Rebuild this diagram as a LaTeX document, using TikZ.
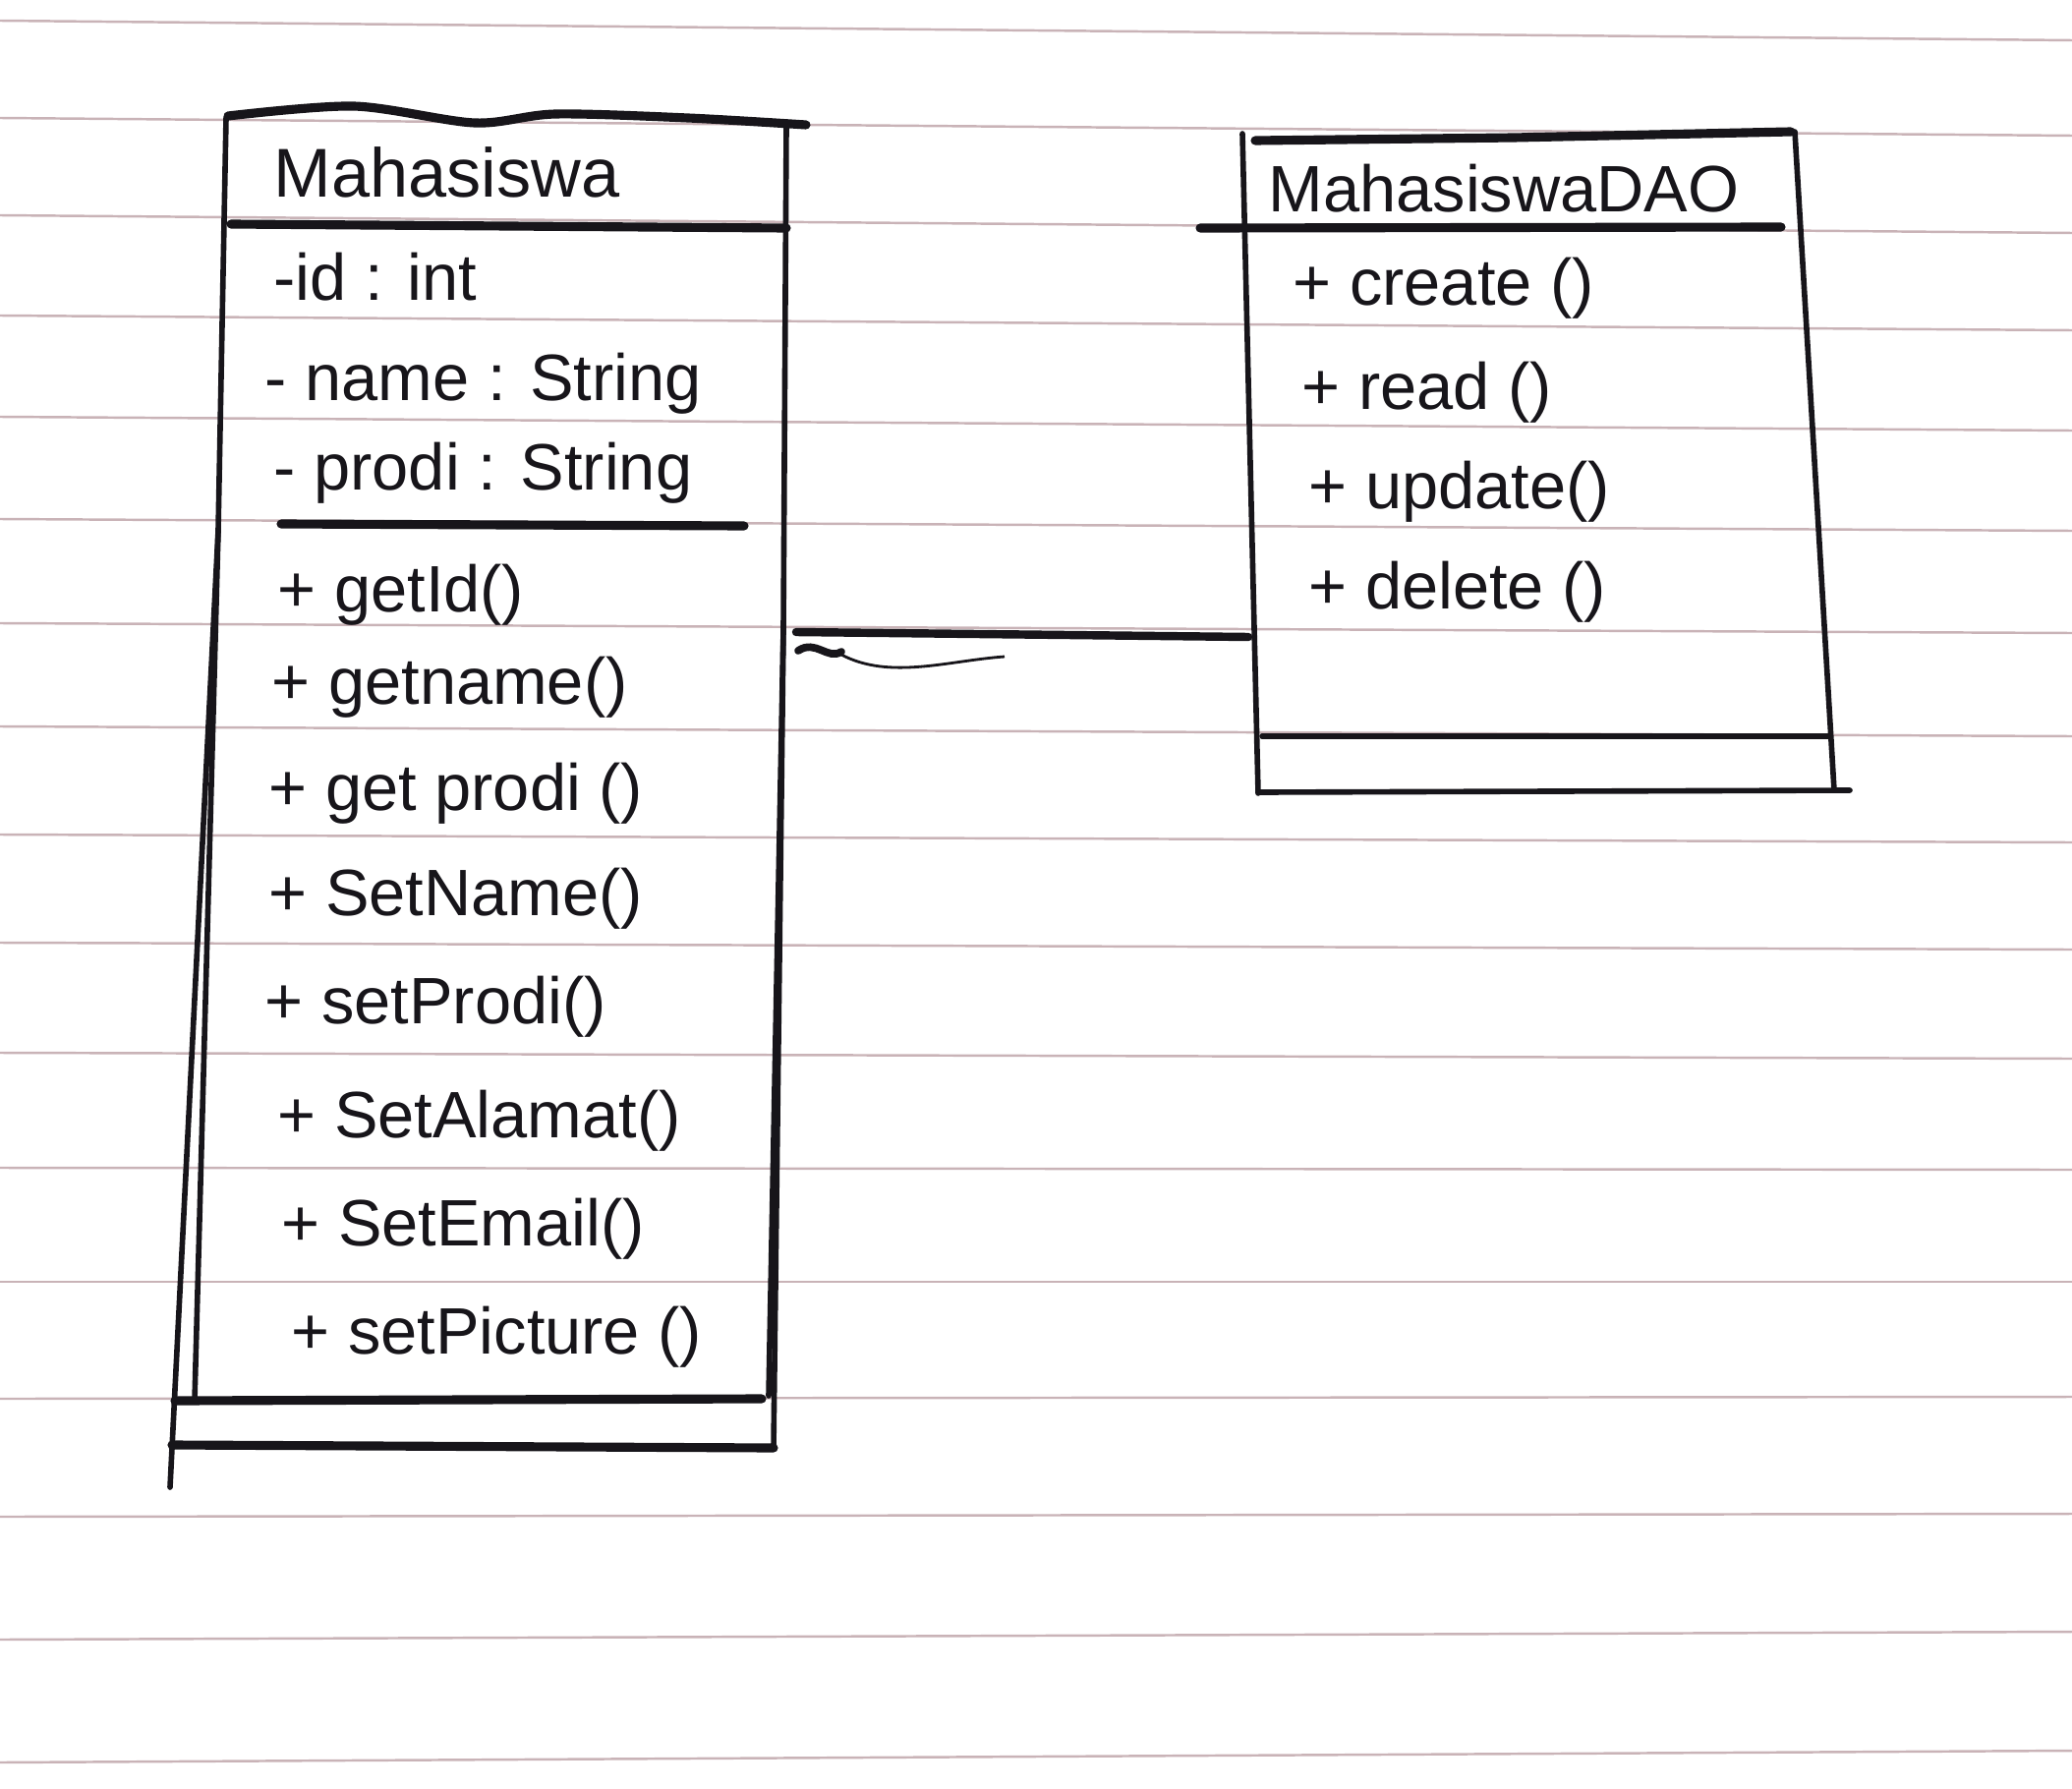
\documentclass[tikz,border=0pt]{standalone}
\usepackage{fontspec}
\setmainfont{Liberation Sans}
\usepackage{xcolor}
\usetikzlibrary{positioning,calc}
\definecolor{ink}{HTML}{17151A}
\definecolor{ruleln}{HTML}{C9B3B7}

\begin{document}
\begin{tikzpicture}[x=0.1mm,y=-0.1mm,
  rul/.style={ruleln,line width=0.7pt},
  edge/.style={ink,line width=1.6pt,line cap=round,line join=round},
  sep/.style={ink,line width=2.6pt,line cap=round},
  ttl/.style={anchor=west,inner sep=0pt,text=ink,font=\fontsize{20}{22}\selectfont},
  mem/.style={anchor=west,inner sep=0pt,text=ink,font=\fontsize{19}{21}\selectfont},
  conn/.style={ink,line width=2.4pt,line cap=round}]

\useasboundingbox (0,0) rectangle (2108,1820);

% ruled paper
\foreach \yl/\yr in {21/41,120/138,219/237,321/336,424/438,528/540,634/644,
  739/749,849/857,959/966,1071/1077,1188/1190,1304/1304,1423/1421,
  1543/1540,1668/1660,1793/1781}
  \draw[rul] (0,\yl) -- (2108,\yr);

% class Mahasiswa
\draw[sep] plot[smooth] coordinates {(232,118) (360,108) (483,125) (565,116) (700,120) (820,127)};
\draw[edge] (230,120) -- (222,540) -- (198,1425);
\draw[edge] (222,540) -- (173,1513);
\draw[edge] (800,127) -- (797,640) -- (787,1473);
\draw[edge] (797,640) -- (782,1420);
\draw[sep] (235,228) -- (800,232);
\draw[sep] (286,533) -- (757,535);
\draw[sep] (178,1425) -- (775,1423);
\draw[sep] (175,1470) -- (787,1473);

\node[ttl] (mhs) at (278,175) {Mahasiswa};
\node[mem] (aid) at (278,282) {-id : int};
\node[mem] (aname) at (269,390) {- name : String};
\node[mem] (aprodi) at (278,481) {- prodi : String};
\node[mem] (mgid) at (282,605) {+ getId()};
\node[mem] (mgname) at (276,699) {+ getname()};
\node[mem] (mgprodi) at (273,807) {+ get prodi ()};
\node[mem] (msname) at (273,914) {+ SetName()};
\node[mem] (msprodi) at (269,1024) {+ setProdi()};
\node[mem] (msalamat) at (282,1140) {+ SetAlamat()};
\node[mem] (msemail) at (286,1250) {+ SetEmail()};
\node[mem] (mspic) at (296,1360) {+ setPicture ()};

% class MahasiswaDAO
\draw[sep] (1277,143) -- (1540,140) -- (1822,134);
\draw[edge] (1264,136) -- (1280,807);
\draw[edge] (1826,134) -- (1866,804);
\draw[sep] (1221,232) -- (1812,231);
\draw[edge] (1284,749) -- (1862,749);
\draw[edge] (1280,806) -- (1882,804);

\node[mem] (dao) at (1290,192) {MahasiswaDAO};
\node[mem] (dcreate) at (1315,293) {+ create ()};
\node[mem] (dread) at (1324,399) {+ read ()};
\node[mem] (dupdate) at (1331,500) {+ update()};
\node[mem] (ddelete) at (1331,602) {+ delete ()};

% association
\coordinate (mhsR) at (810,643);
\coordinate (daoL) at (1270,648);
\draw[conn] (mhsR) -- (daoL);
\draw[ink,line width=2.2pt,line cap=round] (812,662) .. controls (830,650) and (842,672) .. (856,663);
\draw[ink,line width=0.8pt] (856,666) .. controls (905,692) and (965,672) .. (1022,668);
\end{tikzpicture}
\end{document}
